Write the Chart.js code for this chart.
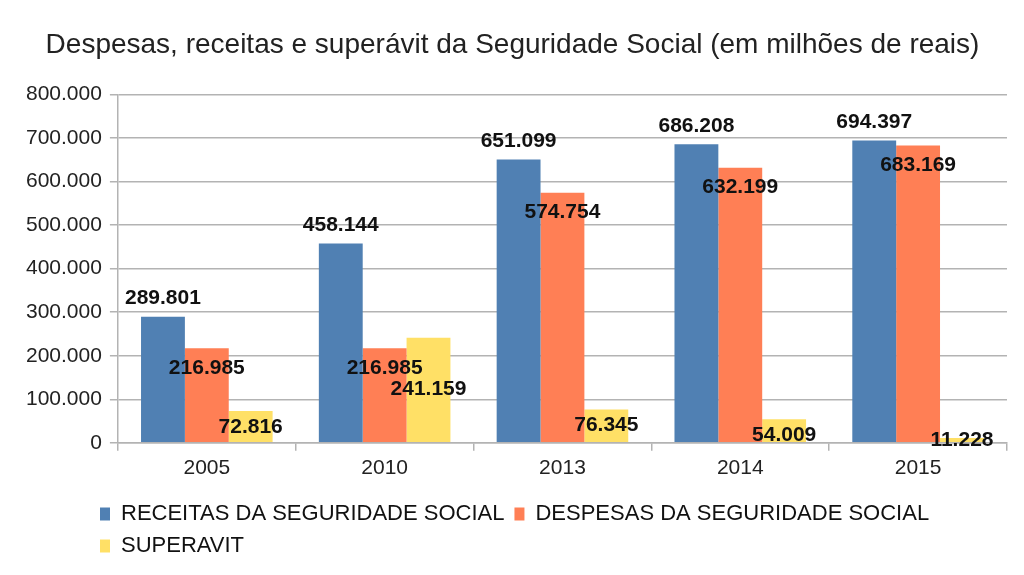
<!DOCTYPE html>
<html>
<head>
<meta charset="utf-8">
<script src="https://cdn.jsdelivr.net/npm/chart.js@4/dist/chart.umd.min.js"></script>
<style>
  body { margin: 0; background: #fff; }
</style>
</head>
<body>
<canvas id="grafiek" width="1024" height="575"></canvas>
<script>
// dados
const anos = ['2005', '2010', '2013', '2014', '2015'];
const receitas = [289801, 458144, 651099, 686208, 694397];
const despesas = [216985, 216985, 574754, 632199, 683169];
const superavit = [72816, 241159, 76345, 54009, 11228];

const series = ['RECEITAS DA SEGURIDADE SOCIAL', 'DESPESAS DA SEGURIDADE SOCIAL', 'SUPERAVIT'];
const cores = ['#5080b3', '#ff7f55', '#ffe066'];
const grade = '#b3b3b3';
const fonte = '"Liberation Sans", Arial, sans-serif';

const fmt = v => String(v).replace(/\B(?=(\d{3})+(?!\d))/g, '.');

// rótulos de valor: azul acima, laranja dentro, amarelo dentro (evitando sobrepor o laranja)
const rotulos = {
  id: 'rotulos',
  afterDatasetsDraw(chart) {
    const ctx = chart.ctx;
    const zero = chart.scales.y.getPixelForValue(0);
    ctx.save();
    ctx.font = 'bold 21px ' + fonte;
    ctx.fillStyle = '#111';
    ctx.textAlign = 'center';
    ctx.textBaseline = 'middle';
    const m0 = chart.getDatasetMeta(0).data;
    const m1 = chart.getDatasetMeta(1).data;
    const m2 = chart.getDatasetMeta(2).data;
    anos.forEach((a, i) => {
      ctx.fillText(fmt(receitas[i]), m0[i].x, m0[i].y - 18);
      const yLaranja = m1[i].y + 20;
      ctx.fillText(fmt(despesas[i]), m1[i].x, yLaranja);
      let yAmarelo = Math.min(m2[i].y + 16, zero - 3);
      if (Math.abs(yAmarelo - yLaranja) < 20) yAmarelo = yLaranja + 21;
      ctx.fillText(fmt(superavit[i]), m2[i].x, yAmarelo);
    });
    ctx.restore();
  }
};

// legenda um pouco à esquerda da área do gráfico e mais abaixo
const legendaPos = {
  id: 'legendaPos',
  afterLayout(chart) {
    const l = chart.legend;
    const dx = 90 - l.left;
    const dy = 7;
    l.left += dx; l.right += dx;
    l.top += dy; l.bottom += dy;
  }
};

new Chart(document.getElementById('grafiek'), {
  type: 'bar',
  data: {
    labels: anos,
    datasets: [
      { label: series[0], data: receitas, backgroundColor: cores[0] },
      { label: series[1], data: despesas, backgroundColor: cores[1] },
      { label: series[2], data: superavit, backgroundColor: cores[2] }
    ]
  },
  options: {
    responsive: false,
    animation: false,
    devicePixelRatio: 1,
    categoryPercentage: 0.74,
    barPercentage: 1,
    layout: { padding: { left: 18, right: 17, top: 0, bottom: 15 } },
    plugins: {
      tooltip: { enabled: false },
      title: {
        display: true,
        text: 'Despesas, receitas e superávit da Seguridade Social (em milhões de reais)',
        color: '#222',
        font: { family: fonte, size: 28, weight: 'normal' },
        padding: { top: 28, bottom: 33 }
      },
      legend: {
        position: 'bottom',
        align: 'start',
        fullSize: false,
        labels: {
          boxWidth: 10,
          boxHeight: 13,
          padding: 10,
          color: '#111',
          font: { family: fonte, size: 22 }
        }
      }
    },
    scales: {
      x: {
        offset: true,
        grid: {
          offset: true,
          color: c => c.index === anos.length ? grade : 'rgba(0,0,0,0)',
          tickColor: grade,
          tickLength: 8,
          lineWidth: 1.5
        },
        border: { color: grade, width: 1.5 },
        ticks: { color: '#222', padding: 5, font: { family: fonte, size: 21 } }
      },
      y: {
        min: 0,
        max: 800000,
        ticks: {
          stepSize: 100000,
          color: '#222',
          padding: 8,
          font: { family: fonte, size: 21 },
          callback: v => fmt(v)
        },
        grid: { color: grade, tickColor: grade, tickLength: 8, lineWidth: 1.5 },
        border: { color: grade, width: 1.5 }
      }
    }
  },
  plugins: [rotulos, legendaPos]
});
</script>
</body>
</html>
